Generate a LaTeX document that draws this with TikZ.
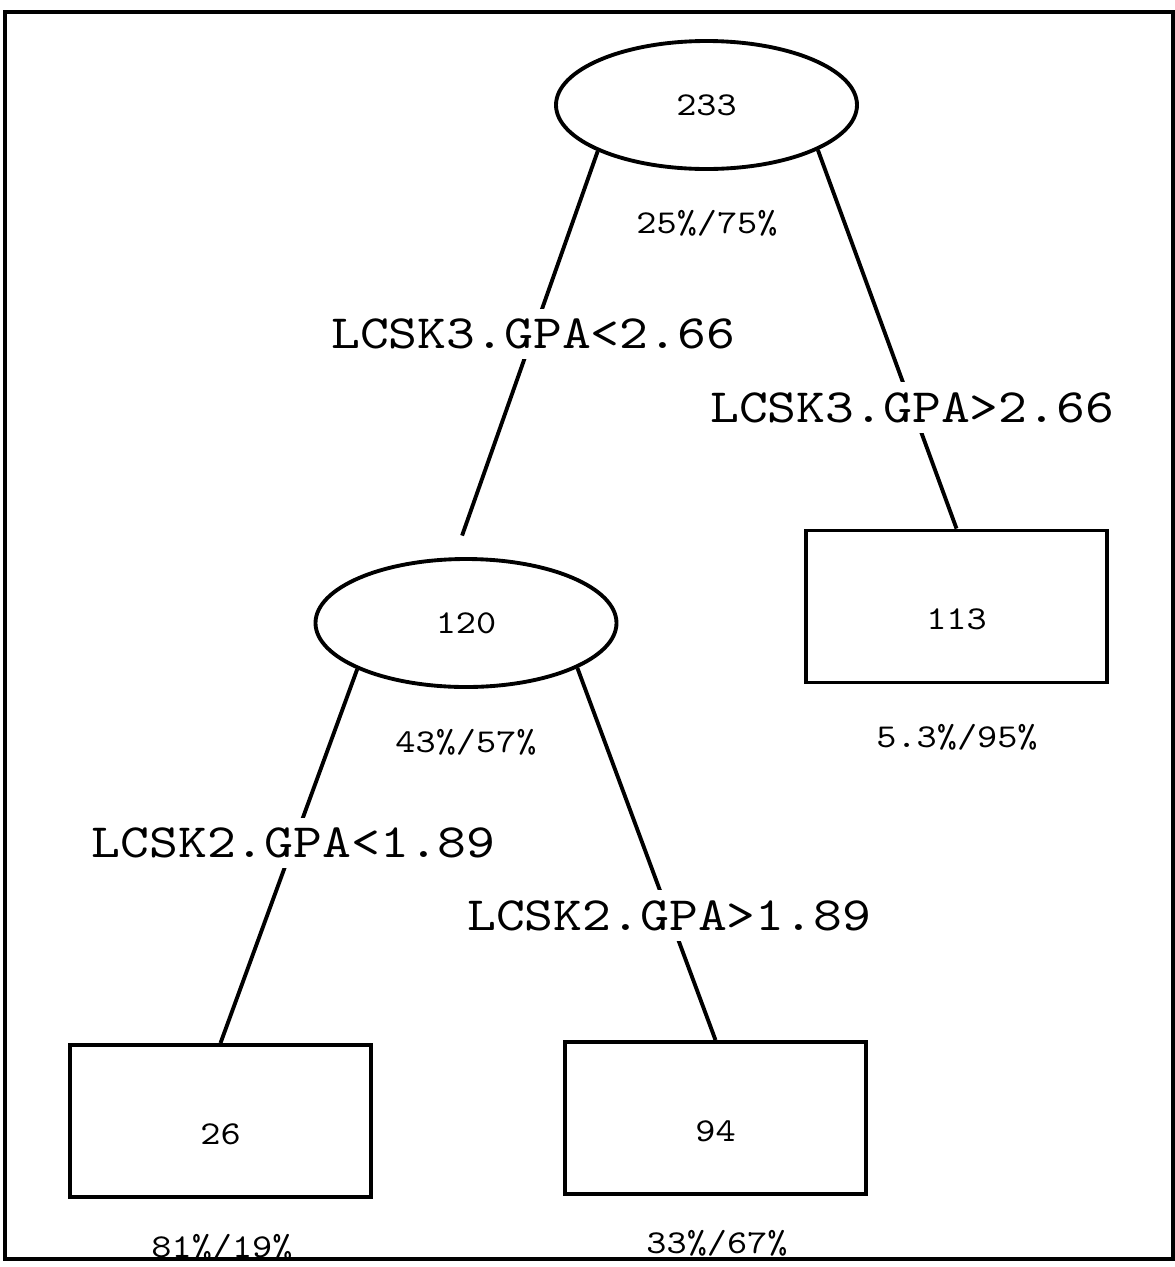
\documentclass[tikz,border=0pt]{standalone}
\usepackage{fontspec}
\setmonofont{lmmono10-regular.otf}[FakeStretch=1.15]
\usetikzlibrary{shapes.geometric}
\tikzset{split/.style={draw, line width=1.1pt, ellipse, inner sep=0pt, minimum width=3.01cm, minimum height=1.28cm, font=\ttfamily\fontsize{9.5}{11}\selectfont},
  leaf/.style={draw, line width=1.1pt, rectangle, minimum width=3.01cm, minimum height=1.52cm, text height=0.6cm, text depth=0.14cm, font=\ttfamily\fontsize{9.5}{11}\selectfont},
  branch/.style={line width=1.1pt},
  cond/.style={fill=white, inner sep=1mm, font=\ttfamily\fontsize{13.6}{16}\selectfont},
  frac/.style={inner sep=0.5mm, font=\ttfamily\fontsize{9.5}{11}\selectfont}}

\begin{document}
\begin{tikzpicture}
  \useasboundingbox (0,0) rectangle (11.75,-12.67);
  \draw[line width=1.1pt] (0.05,-0.12) rectangle (11.73,-12.59);
  % splits
  \node[split] (n233) at (7.065,-1.05) {233};
  \node[split] (n120) at (4.66,-6.23)  {120};
  % leaves
  \node[leaf] (n113) at (9.565,-6.065) {113};
  \node[leaf] (n26)  at (2.205,-11.21) {26};
  \node[leaf] (n94)  at (7.155,-11.18) {94};
  % class fractions
  \node[frac] (f233) at (7.07,-2.23)  {25\%/75\%};
  \node[frac] (f120) at (4.66,-7.42)  {43\%/57\%};
  \node[frac] (f113) at (9.57,-7.37)  {5.3\%/95\%};
  \node[frac] (f26)  at (2.22,-12.47) {81\%/19\%};
  \node[frac] (f94)  at (7.17,-12.43) {33\%/67\%};
  % first split
  \draw[branch, shorten >=0.23cm] (n233.203) -- node[cond, pos=0.45]{LCSK3.GPA<2.66} (n120.100);
  \draw[branch] (n233.338) -- node[cond, pos=0.68]{LCSK3.GPA>2.66} (n113.north);
  % second split
  \draw[branch] (n120.203) -- node[cond, pos=0.465]{LCSK2.GPA<1.89} (n26.north);
  \draw[branch] (n120.338) -- node[cond, pos=0.665]{LCSK2.GPA>1.89} (n94.north);
\end{tikzpicture}
\end{document}
